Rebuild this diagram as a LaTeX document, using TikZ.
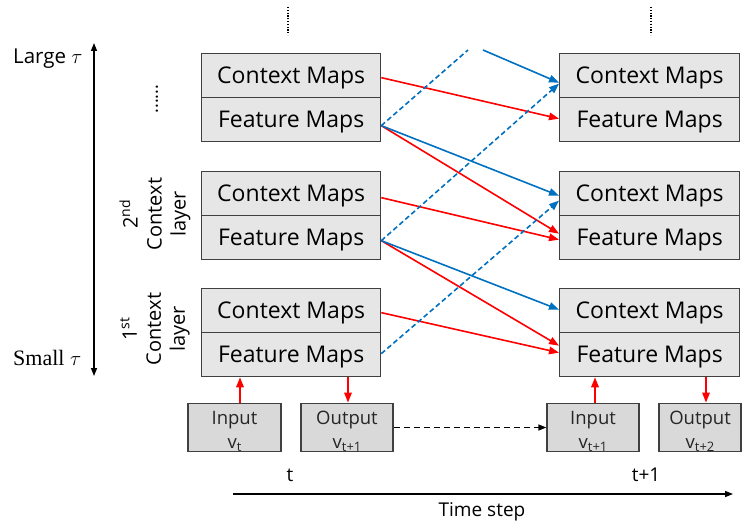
\documentclass[tikz,border=0pt]{standalone}
\usepackage{fontspec}
\setmainfont{Open Sans}
\newfontfamily\seriffam{Liberation Serif}
\usetikzlibrary{arrows.meta}

\definecolor{redline}{RGB}{255,0,0}
\definecolor{blueline}{RGB}{0,112,192}
\definecolor{mapfill}{RGB}{230,230,230}
\definecolor{iofill}{RGB}{217,217,217}
\definecolor{edgegray}{RGB}{64,64,64}

\newcommand{\subtxt}[1]{\raisebox{-0.35ex}{\fontsize{13}{13}\selectfont #1}}
\newcommand{\ioline}[1]{\rule{0pt}{21pt}#1}

\begin{document}
\begin{tikzpicture}[x=1pt,y=-1pt,
  mapbox/.style={draw=edgegray, line width=1.3pt, fill=mapfill,
    minimum width=179pt, minimum height=44pt, inner sep=0pt, text depth=0pt,
    anchor=north west, font=\fontsize{23}{27}\selectfont},
  iobox/.style={draw=edgegray, line width=1.3pt, fill=iofill,
    minimum height=47pt, inner sep=0pt, align=center,
    font=\fontsize{18.5}{24}\selectfont, text=black!85},
  tip/.style={-{Triangle[length=10pt,width=7.5pt]}},
  redlink/.style={tip, draw=redline, line width=1.6pt},
  bluelink/.style={tip, draw=blueline, line width=1.6pt},
  bluedash/.style={tip, draw=blueline, line width=1.6pt, dash pattern=on 5pt off 3pt},
  layerlabel/.style={rotate=90, align=center, font=\fontsize{20}{24}\selectfont},
  axis/.style={line width=1.4pt, draw=black},
  dotline/.style={line width=1.6pt, dash pattern=on 1.2pt off 1.6pt}
]
\useasboundingbox (0,0) rectangle (743,527);

% ---- layer stacks at time t (left) and t+1 (right)
\node[mapbox] (ctxL1) at (201,53) {Context Maps};
\node[mapbox] (featL1) at (201,97) {Feature Maps};
\node[mapbox] (ctxL2) at (201,171) {Context Maps};
\node[mapbox] (featL2) at (201,215) {Feature Maps};
\node[mapbox] (ctxL3) at (201,288) {Context Maps};
\node[mapbox] (featL3) at (201,332) {Feature Maps};

\node[mapbox, minimum width=180pt] (ctxR1) at (559,53) {Context Maps};
\node[mapbox, minimum width=180pt] (featR1) at (559,97) {Feature Maps};
\node[mapbox, minimum width=180pt] (ctxR2) at (559,171) {Context Maps};
\node[mapbox, minimum width=180pt] (featR2) at (559,215) {Feature Maps};
\node[mapbox, minimum width=180pt] (ctxR3) at (559,288) {Context Maps};
\node[mapbox, minimum width=180pt] (featR3) at (559,332) {Feature Maps};

% ---- input / output boxes
\node[iobox, minimum width=93pt] (inA) at (234.5,427.5) {\ioline{Input}\\v\subtxt{t}};
\node[iobox, minimum width=92pt] (outA) at (347,427.5) {\ioline{Output}\\v\subtxt{t+1}};
\node[iobox, minimum width=92pt] (inB) at (593,427.5) {\ioline{Input}\\v\subtxt{t+1}};
\node[iobox, minimum width=82pt] (outB) at (700,427.5) {\ioline{Output}\\v\subtxt{t+2}};

% ---- vertical continuation dots
\draw[dotline] (288,7) -- (288,35);
\draw[dotline] (651,7) -- (651,35);
\node[rotate=90, font=\fontsize{18}{20}\selectfont] (moredots) at (157,99) {......};

% ---- layer labels
\node[layerlabel] (lay2) at (155,214) {2\textsuperscript{nd}\\Context\\layer};
\node[layerlabel] (lay1) at (155,329) {1\textsuperscript{st}\\Context\\layer};

% ---- tau axis
\coordinate (tauTop) at (94,43);
\coordinate (tauBot) at (94,376);
\draw[axis, {Triangle[length=8pt,width=6pt]}-{Triangle[length=8pt,width=6pt]}] (tauTop) -- (tauBot);
\node[font=\fontsize{20.5}{24}\selectfont, anchor=west, inner sep=0pt] (large) at (13,59) {Large $\tau$};
\node[font=\fontsize{22}{24}\selectfont\seriffam, anchor=west, inner sep=0pt] (small) at (13,358) {Small $\tau$};

% ---- time axis
\coordinate (tStart) at (233,494);
\coordinate (tEnd) at (733,494);
\draw[axis, -{Triangle[length=8pt,width=6pt]}] (tStart) -- (tEnd);
\node[font=\fontsize{19}{22}\selectfont] (tlab) at (290,475) {t};
\node[font=\fontsize{19}{22}\selectfont] (t1lab) at (646,475) {t+1};
\node[font=\fontsize{19}{22}\selectfont] (tslab) at (482,512) {Time step};

% ---- connections at the boundary (top of picture)
\coordinate (upDash) at (468,50);
\coordinate (fromAbove) at (483,50);

% ---- red: context -> feature, feature -> next feature
\draw[redlink] ([yshift=-2pt]ctxL1.east) -- ([yshift=1pt]featR1.west);
\draw[redlink] ([yshift=-6pt]featL1.east) -- ([yshift=4pt]featR2.west);
\draw[redlink] ([yshift=-4pt]ctxL2.east) -- ([yshift=-2pt]featR2.west);
\draw[redlink] ([yshift=-3pt]featL2.east) -- ([yshift=9pt]featR3.west);
\draw[redlink] ([yshift=-2pt]ctxL3.east) -- ([yshift=2pt]featR3.west);

% ---- blue solid: feature -> next context
\draw[bluelink] (fromAbove) -- ([yshift=-7pt]ctxR1.west);
\draw[bluelink] ([yshift=-6pt]featL1.east) -- ([yshift=-2pt]ctxR2.west);
\draw[bluelink] ([yshift=-3pt]featL2.east) -- ([yshift=1pt]ctxR3.west);

% ---- blue dashed: feature -> previous context
\draw[draw=blueline, line width=1.6pt, dash pattern=on 5pt off 3pt] ([yshift=-6pt]featL1.east) -- (upDash);
\draw[bluedash] ([yshift=-3pt]featL2.east) -- ([yshift=-8pt]ctxR1.west);
\draw[bluedash] ([yshift=1pt]featL3.east) -- ([yshift=-7pt]ctxR2.west);

% ---- input / output links
\draw[redlink] ([xshift=5.5pt]inA.north) -- ([xshift=5.5pt]inA.north |- featL3.south);
\draw[redlink] ([xshift=1pt]outA.north |- featL3.south) -- ([xshift=1pt]outA.north);
\draw[redlink] ([xshift=2pt]inB.north) -- ([xshift=2pt]inB.north |- featR3.south);
\draw[redlink] ([xshift=6pt]outB.north |- featR3.south) -- ([xshift=6pt]outB.north);
\draw[line width=1.4pt, dash pattern=on 6pt off 4pt, -{Triangle[length=8pt,width=6pt]}] (outA.east) -- (inB.west);
\end{tikzpicture}
\end{document}
